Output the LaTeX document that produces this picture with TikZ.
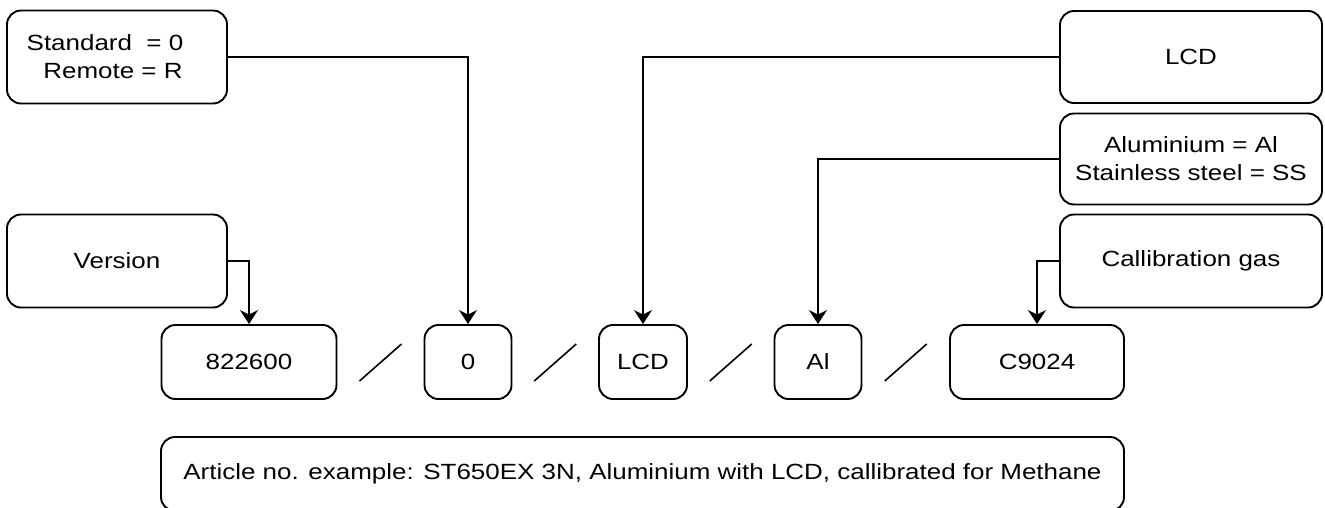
\documentclass[tikz,border=0pt]{standalone}
\usepackage{fontspec}
\setmainfont[FakeStretch=1.18]{Liberation Sans}
\usetikzlibrary{%
  calc,
  arrows.meta,
  positioning
}

\begin{document}
\begin{tikzpicture}[x=1pt, y=-1pt,
    box/.style={draw, line width=1.9pt, rounded corners=14pt, inner sep=0pt,
                align=center, font=\fontsize{22}{28}\selectfont},
    link/.style={-{Stealth[length=14pt, width=18pt, inset=4.5pt]}, line width=1.9pt}]
  \useasboundingbox (0,0) rectangle (1325,507) ;

  % option boxes
  \node [box, minimum width=220, minimum height=93] (optstd) at ( 117, 57)
        {Standard \ = 0\hspace*{24pt}\\Remote = R\hspace*{8pt}} ;
  \node [box, minimum width=220, minimum height=93] (optver) at ( 117,261) {Version} ;
  \node [box, minimum width=262, minimum height=92] (optlcd) at (1191, 57) {LCD} ;
  \node [box, minimum width=262, minimum height=91] (optmat) at (1191,159)
        {Aluminium = Al\\Stainless steel = SS} ;
  \node [box, minimum width=262, minimum height=93] (optgas) at (1191,261) {Callibration gas} ;

  % code row
  \node [box, minimum width=175, minimum height=74] (codever) at ( 249,362) {822600} ;
  \node [box, minimum width= 87, minimum height=74] (codestd) at ( 468,362) {0} ;
  \node [box, minimum width= 88, minimum height=74] (codelcd) at ( 643,362) {LCD} ;
  \node [box, minimum width= 87, minimum height=74] (codemat) at ( 818,362) {Al} ;
  \node [box, minimum width=174, minimum height=74] (codegas) at (1037,362) {C9024} ;

  \node [box, minimum width=963, minimum height=74] (example) at ( 642.5,474)
        {Article no. example: ST650EX 3N, Aluminium with LCD, callibrated for Methane} ;

  % slashes
  \foreach \a/\b in {codever/codestd, codestd/codelcd, codelcd/codemat, codemat/codegas}
    \draw [line width=1.6pt] ($(\a.east)!0.5!(\b.west)$) +(-21,19) -- +(21,-18) ;

  % links
  \draw [link] (optver.east) -| (codever.north) ;
  \draw [link] (optstd.east) -| (codestd.north) ;
  \draw [link] (optlcd.west) -| (codelcd.north) ;
  \draw [link] (optmat.west) -| (codemat.north) ;
  \draw [link] (optgas.west) -| (codegas.north) ;
\end{tikzpicture}
\end{document}
